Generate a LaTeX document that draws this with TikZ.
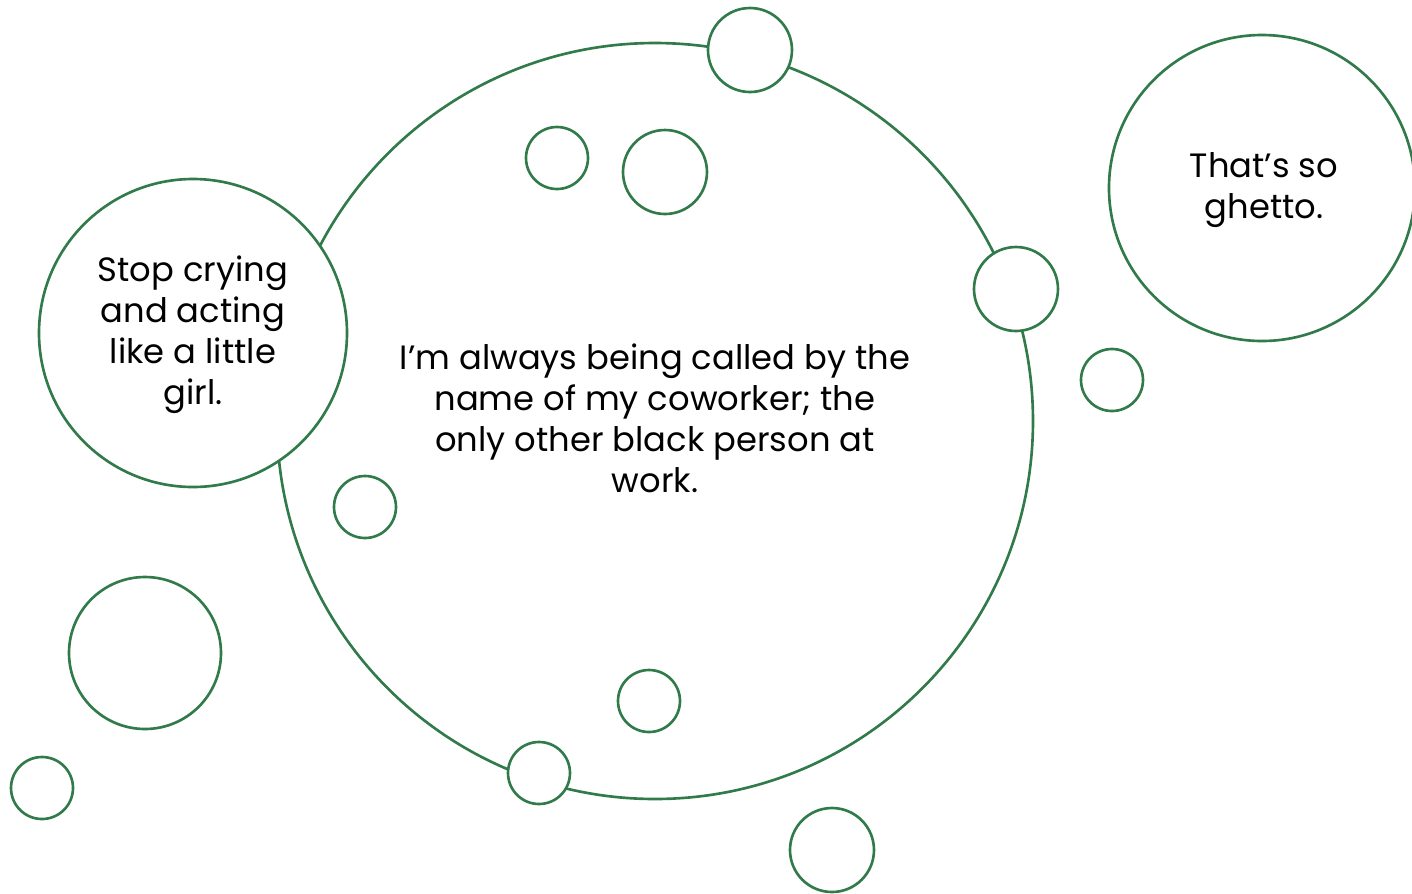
\documentclass[tikz,border=0pt]{standalone}
\usepackage{fontspec}
\setmainfont{Poppins}
\definecolor{bubblegreen}{RGB}{49,122,74}
\tikzset{
  bubble/.style={circle,draw=bubblegreen,line width=0.75pt,fill=white,inner sep=0pt},
  saying/.style={align=center,font=\fontsize{9.6}{11.7}\selectfont}
}
\begin{document}
\begin{tikzpicture}[x=0.1mm,y=-0.1mm]
				\useasboundingbox (0,0) rectangle (1412,893);
				% big circle first, the others lie over it
				\node[bubble,minimum size=75.6mm] (main) at (655,421) {};
				\node[bubble,minimum size=30.8mm] (crying) at (193,333) {};
				\node[bubble,minimum size=30.6mm] (ghetto) at (1262,188) {};
				\foreach \cx/\cy/\r/\nm in {750/50/42/topa,557/158/31/topb,665/172/42/topc,1016/289/42/rima,1112/380/31/outa,365/507/31/insa,145/653/76/lefta,42/788/31/leftb,649/701/31/insb,539/773/31/rimb,832/850/42/outb}
					\node[bubble,minimum size=\r*0.2mm] (\nm) at (\cx,\cy) {};
				\node[saying] (maintext) at (655,418) {I’m always being called by the\\name of my coworker; the\\only other black person at\\work.};
				\node[saying] (cryingtext) at (193,335) {Stop crying\\and acting\\like a little\\girl.};
				\node[saying] (ghettotext) at (1264,190) {That’s so\\ghetto.};
			\end{tikzpicture}
\end{document}
